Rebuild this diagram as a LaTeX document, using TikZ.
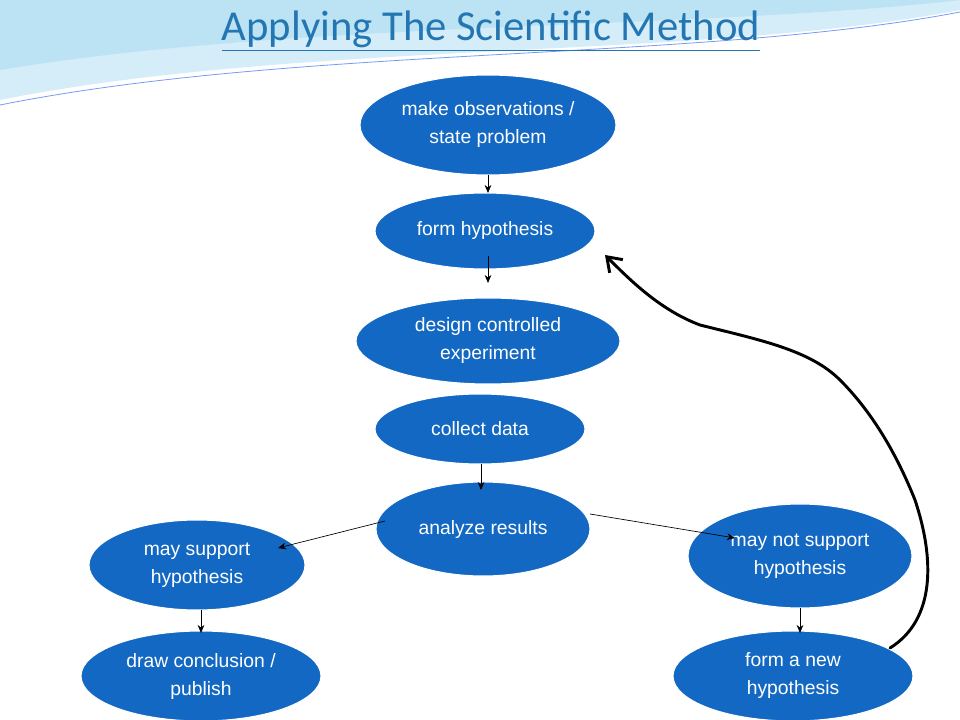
\documentclass[tikz,border=0pt]{standalone}
\usepackage{fontspec}
\setmainfont{Liberation Sans}
\newfontfamily\titlefont{Carlito}
\usetikzlibrary{shapes.geometric,arrows.meta}
\definecolor{nodeblue}{RGB}{18,104,194}
\definecolor{titleblue}{RGB}{36,118,178}
\definecolor{swoosh}{RGB}{170,220,240}
\tikzset{
 ell/.style={ellipse,fill=nodeblue,draw=white,line width=0.8pt,text=white,align=center,font=\fontsize{14.5}{21}\selectfont,inner sep=0pt},
 arr/.style={-{Stealth[length=6pt,width=5pt]},line width=0.5pt}
}
\begin{document}
\begin{tikzpicture}[x=0.75pt,y=-0.75pt]
\useasboundingbox (0,0) rectangle (960,720);
\fill[white] (0,0) rectangle (960,720);
\fill[swoosh!50] (0,0) -- (960,0) -- (960,10) .. controls (700,60) and (300,40) .. (0,100) -- cycle;
\fill[swoosh!80] (0,0) -- (960,0) .. controls (700,30) and (300,20) .. (0,70) -- cycle;
\draw[swoosh!70!blue,line width=0.6pt] (0,105) .. controls (300,45) and (700,62) .. (960,12);
\node[font=\titlefont\fontsize{32}{34}\selectfont,text=titleblue] (title) at (491,31) {\underline{Applying The Scientific Method}};
\node[ell,minimum width=0.75*256pt,minimum height=0.75*100pt] (obs) at (488,125) {make observations /\\state problem};
\node[ell,minimum width=0.75*220pt,minimum height=0.75*76pt] (hyp) at (485,231) {form hypothesis};
\node[ell,minimum width=0.75*264pt,minimum height=0.75*86pt] (des) at (488,341) {design controlled\\experiment};
\node[ell,minimum width=0.75*210pt,minimum height=0.75*70pt] (col) at (480,429) {collect data};
\node[ell,minimum width=0.75*214pt,minimum height=0.75*94pt] (ana) at (483,529) {analyze results};
\node[ell,minimum width=0.75*216pt,minimum height=0.75*90pt] (sup) at (197,565) {may support\\hypothesis};
\node[ell,minimum width=0.75*224pt,minimum height=0.75*104pt] (nsup) at (800,556) {may not support\\hypothesis};
\node[ell,minimum width=0.75*240pt,minimum height=0.75*90pt] (con) at (201,676) {draw conclusion /\\publish};
\node[ell,minimum width=0.75*240pt,minimum height=0.75*90pt] (new) at (793,676) {form a new\\hypothesis};
\coordinate (h2) at (488,283);
\coordinate (a1) at (385,521);
\coordinate (a1e) at (278,548);
\coordinate (a2) at (590,514);
\coordinate (a2e) at (735,538);
\coordinate (cs) at (481,464);
\coordinate (ce) at (481,490);
\coordinate (hs) at (488,256);
\coordinate (os) at (488,175);
\coordinate (oe) at (488,193);
\coordinate (s1) at (201,610);
\coordinate (s2) at (201,633);
\coordinate (n1) at (800,608);
\coordinate (n2) at (800,633);
\coordinate (cur) at (890,648);
\draw[arr] (os) -- (oe);
\draw[arr] (hs) -- (h2);
\draw[arr] (cs) -- (ce);
\draw[arr] (a1) -- (a1e);
\draw[arr] (a2) -- (a2e);
\draw[arr] (s1) -- (s2);
\draw[arr] (n1) -- (n2);
\draw[line width=2.2pt,line cap=round,line join=round,-{Straight Barb[length=10pt,width=14pt]}]
 (cur) .. controls (935,620) and (935,560) .. (915,500)
 .. controls (895,450) and (870,410) .. (840,380)
 .. controls (810,350) and (760,340) .. (700,325)
 .. controls (660,310) and (630,280) .. (605,255);
\end{tikzpicture}
\end{document}
